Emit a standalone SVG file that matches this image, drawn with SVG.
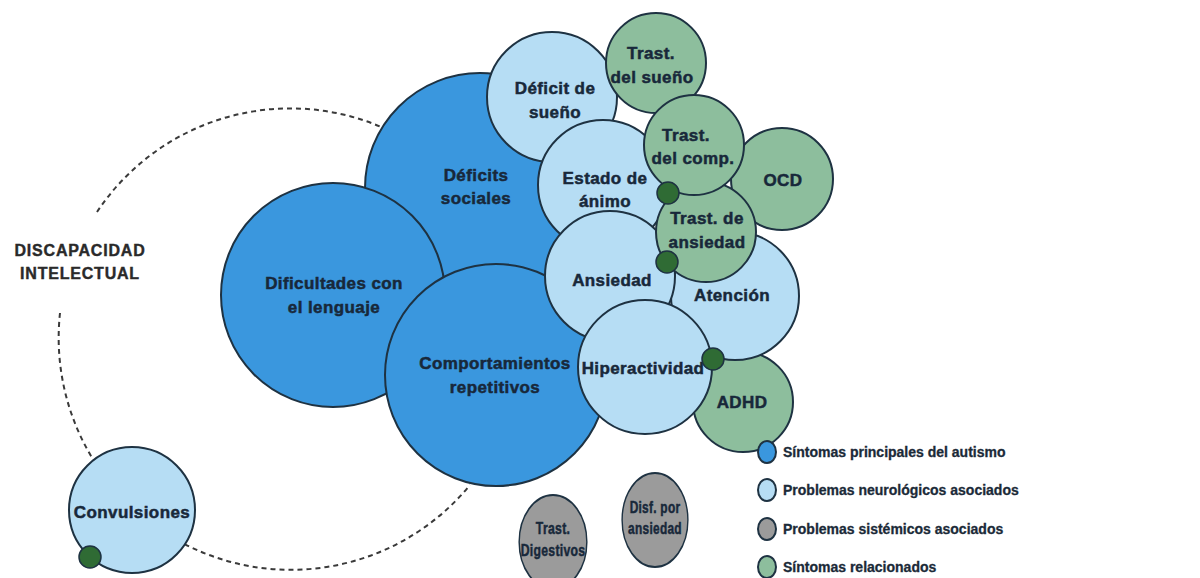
<svg xmlns="http://www.w3.org/2000/svg" width="1200" height="578" viewBox="0 0 1200 578">
<style>
.c{stroke:#1e3242;stroke-width:2}
.core{fill:#3a97de}
.neuro{fill:#b6ddf4}
.sys{fill:#9b9b9b}
.rel{fill:#8dbe9d}
.dot{fill:#2f6b34;stroke:#1e3242;stroke-width:1.5}
.t{font-family:"Liberation Sans",Arial,sans-serif;font-weight:bold;font-size:17px;fill:#18283a;stroke:#18283a;stroke-width:0.5px;text-anchor:middle;letter-spacing:0.4px}
.lg{font-family:"Liberation Sans",Arial,sans-serif;font-weight:bold;font-size:14px;fill:#1b2a38;stroke:#1b2a38;stroke-width:0.3px}
.di{font-family:"Liberation Sans",Arial,sans-serif;font-weight:bold;font-size:16px;fill:#2a2a2a;stroke:#2a2a2a;stroke-width:0.4px;text-anchor:middle;letter-spacing:0.8px}
.ring{fill:none;stroke:#3a3a3a;stroke-width:2;stroke-dasharray:5 4}
</style>
<rect width="1200" height="578" fill="#ffffff"/>
<g id="connectors">
<path class="ring" d="M97 212 A232 232 0 0 1 400 136"/>
<path class="ring" d="M60 313 A232 232 0 0 0 470 485"/>
</g>
<g id="discapacidad-intelectual">
<text class="di" x="80" y="256">DISCAPACIDAD</text>
<text class="di" x="80" y="279">INTELECTUAL</text>
</g>
<g id="deficits-sociales"><circle class="c core" cx="480" cy="188" r="115"/><text class="t" x="476" y="181">Déficits</text><text class="t" x="476" y="204">sociales</text></g>
<g id="dificultades-lenguaje"><circle class="c core" cx="333" cy="295" r="112"/><text class="t" x="334" y="289">Dificultades con</text><text class="t" x="334" y="313">el lenguaje</text></g>
<g id="comportamientos-repetitivos"><circle class="c core" cx="496" cy="375" r="111"/><text class="t" x="495" y="369">Comportamientos</text><text class="t" x="495" y="393">repetitivos</text></g>
<g id="deficit-sueno"><circle class="c neuro" cx="552" cy="97" r="65"/><text class="t" x="555" y="94">Déficit de</text><text class="t" x="555" y="118">sueño</text></g>
<g id="trast-sueno"><circle class="c rel" cx="656" cy="63" r="50"/><text class="t" x="651" y="59">Trast.</text><text class="t" x="652" y="83">del sueño</text></g>
<g id="estado-animo"><circle class="c neuro" cx="603" cy="185" r="65"/><text class="t" x="605" y="184">Estado de</text><text class="t" x="605" y="207">ánimo</text></g>
<g id="ocd"><circle class="c rel" cx="782" cy="179" r="51"/><text class="t" x="783" y="186">OCD</text></g>
<g id="adhd"><circle class="c rel" cx="743" cy="402" r="50"/><text class="t" x="742" y="408">ADHD</text></g>
<g id="atencion"><circle class="c neuro" cx="735" cy="296" r="64"/><text class="t" x="732" y="301">Atención</text></g>
<g id="ansiedad"><circle class="c neuro" cx="610" cy="276" r="65"/><text class="t" x="612" y="286">Ansiedad</text></g>
<g id="trast-ansiedad"><circle class="c rel" cx="706" cy="232" r="50"/><text class="t" x="707" y="224">Trast. de</text><text class="t" x="707" y="248">ansiedad</text></g>
<g id="trast-comp"><circle class="c rel" cx="694" cy="145" r="50"/><text class="t" x="686" y="141">Trast.</text><text class="t" x="693" y="164">del comp.</text></g>
<g id="hiperactividad"><circle class="c neuro" cx="645" cy="367" r="67"/><text class="t" x="643" y="374">Hiperactividad</text></g>
<g id="convulsiones"><circle class="c neuro" cx="132" cy="510" r="63"/><text class="t" x="132" y="518">Convulsiones</text></g>
<g id="trast-digestivos" transform="translate(553 542) scale(0.72 1)"><circle class="c sys" cx="0" cy="0" r="47"/><text class="t" x="0" y="-8">Trast.</text><text class="t" x="0" y="14">Digestivos</text></g>
<g id="disf-ansiedad" transform="translate(655 520) scale(0.7 1)"><circle class="c sys" cx="0" cy="0" r="47"/><text class="t" x="0" y="-7">Disf. por</text><text class="t" x="0" y="14">ansiedad</text></g>
<g id="markers">
<circle class="dot" cx="668" cy="193" r="11"/>
<circle class="dot" cx="667" cy="262" r="11"/>
<circle class="dot" cx="713" cy="359" r="11"/>
<circle class="dot" cx="90" cy="557" r="11"/>
</g>
<g id="legend">
<g id="legend-core"><ellipse class="c core" cx="767" cy="452" rx="9" ry="11"/><text class="lg" x="783" y="457">Síntomas principales del autismo</text></g>
<g id="legend-neuro"><ellipse class="c neuro" cx="767" cy="490" rx="9" ry="11"/><text class="lg" x="783" y="495">Problemas neurológicos asociados</text></g>
<g id="legend-sys"><ellipse class="c sys" cx="767" cy="529" rx="9" ry="11"/><text class="lg" x="783" y="534">Problemas sistémicos asociados</text></g>
<g id="legend-rel"><ellipse class="c rel" cx="767" cy="567" rx="9" ry="11"/><text class="lg" x="783" y="572">Síntomas relacionados</text></g>
</g>
</svg>
